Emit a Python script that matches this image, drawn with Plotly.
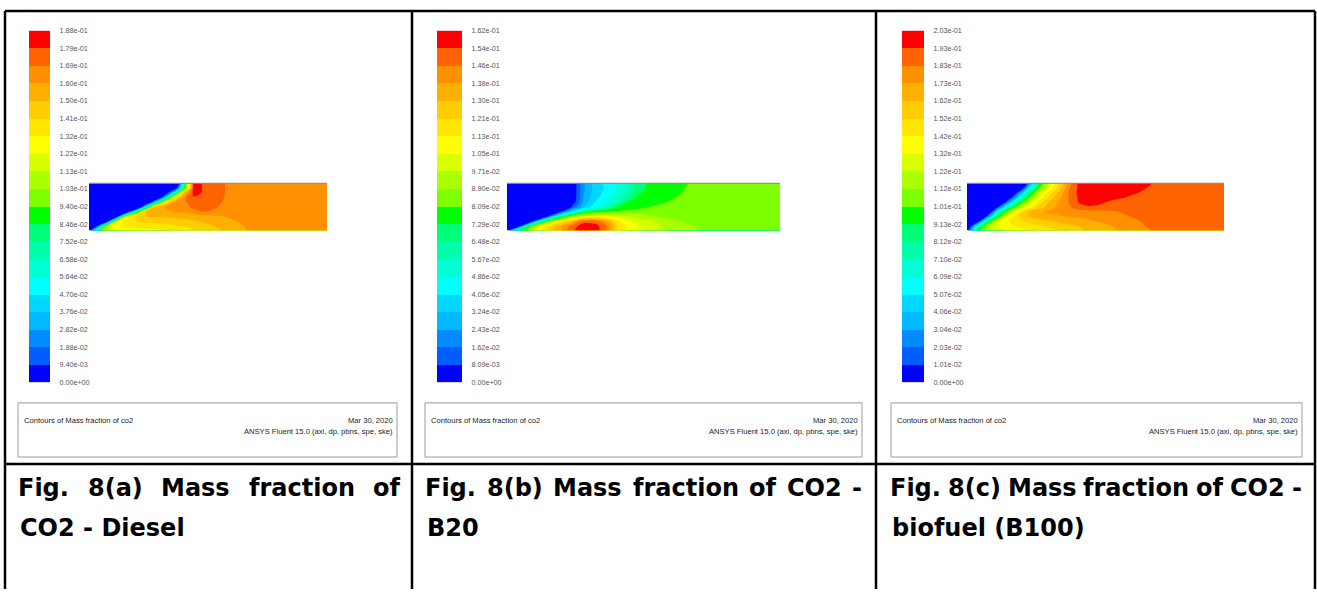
import numpy as np
import plotly.graph_objects as go

W, H = 1317, 594

# ---------------- data ----------------
# Fluent banded colour map, 20 bands from low to high
band_colors = ["#0000ff", "#005eff", "#008cff", "#00b9ff", "#00d7ff", "#00ffff",
               "#00ffd2", "#00ffaa", "#00ff78", "#00ff00", "#7dff00", "#aaff00",
               "#d7ff00", "#ffff00", "#ffe600", "#ffcd00", "#ffaf00", "#ff9100",
               "#ff6400", "#ff0000"]

# normalised axial / radial positions of the sampled grid
axial_pos = [0, .04, .08, .12, .16, .20, .24, .28, .32, .36, .40, .44, .48, .52,
             .56, .60, .65, .70, .75, .80, .90, 1.0]
radial_pos = [0, .1, .2, .3, .4, .5, .6, .7, .8, .9, 1.0]

diesel_max = 0.188
b20_max = 0.162
b100_max = 0.203

diesel_labels = ["0.00e+00", "9.40e-03", "1.88e-02", "2.82e-02", "3.76e-02", "4.70e-02",
                 "5.64e-02", "6.58e-02", "7.52e-02", "8.46e-02", "9.40e-02", "1.03e-01",
                 "1.13e-01", "1.22e-01", "1.32e-01", "1.41e-01", "1.50e-01", "1.60e-01",
                 "1.69e-01", "1.79e-01", "1.88e-01"]
b20_labels = ["0.00e+00", "8.09e-03", "1.62e-02", "2.43e-02", "3.24e-02", "4.05e-02",
              "4.86e-02", "5.67e-02", "6.48e-02", "7.29e-02", "8.09e-02", "8.90e-02",
              "9.71e-02", "1.05e-01", "1.13e-01", "1.21e-01", "1.30e-01", "1.38e-01",
              "1.46e-01", "1.54e-01", "1.62e-01"]
b100_labels = ["0.00e+00", "1.01e-02", "2.03e-02", "3.04e-02", "4.06e-02", "5.07e-02",
               "6.09e-02", "7.10e-02", "8.12e-02", "9.13e-02", "1.01e-01", "1.12e-01",
               "1.22e-01", "1.32e-01", "1.42e-01", "1.52e-01", "1.62e-01", "1.73e-01",
               "1.83e-01", "1.93e-01", "2.03e-01"]

# CO2 field, in colour-band units (value = level * max / 20),
# rows from the axis (bottom) to the wall (top)
diesel_levels = [
    [0, 10, 12.5, 13.3, 13.5, 13.6, 13.7, 13.8, 14.0, 14.3, 14.6, 14.9, 15.2, 15.6, 16.0, 16.4, 16.9, 17.3, 17.5, 17.5, 17.5, 17.5],
    [-6, 2, 12.5, 13.8, 14.2, 14.4, 14.5, 14.6, 14.7, 14.9, 15.1, 15.4, 15.7, 16.0, 16.3, 16.6, 17.0, 17.3, 17.5, 17.5, 17.5, 17.5],
    [-6, -6, 0.5, 13, 14.6, 15.0, 15.2, 15.3, 15.4, 15.5, 15.7, 15.9, 16.1, 16.3, 16.6, 16.9, 17.2, 17.5, 17.5, 17.5, 17.5, 17.5],
    [-6, -6, -6, 0, 13, 15.5, 16.0, 16.1, 16.2, 16.3, 16.4, 16.5, 16.6, 16.8, 17.0, 17.2, 17.5, 17.5, 17.5, 17.5, 17.5, 17.5],
    [-6, -6, -6, -6, -2, 8, 16.0, 16.6, 16.8, 17.0, 17.2, 17.6, 18.1, 17.8, 17.5, 17.5, 17.5, 17.5, 17.5, 17.5, 17.5, 17.5],
    [-6, -6, -6, -6, -6, -4, 6, 16.5, 17.1, 17.3, 17.6, 18.3, 18.5, 18.3, 17.7, 17.5, 17.5, 17.5, 17.5, 17.5, 17.5, 17.5],
    [-6, -6, -6, -6, -6, -6, -3, 5, 14, 17.2, 17.8, 18.5, 18.7, 18.5, 18.0, 17.5, 17.5, 17.5, 17.5, 17.5, 17.5, 17.5],
    [-6, -6, -6, -6, -6, -6, -6, -3, 4, 14, 17.8, 18.9, 18.8, 18.6, 18.1, 17.5, 17.5, 17.5, 17.5, 17.5, 17.5, 17.5],
    [-6, -6, -6, -6, -6, -6, -6, -6, -1, 6, 16, 19.4, 18.9, 18.7, 18.2, 17.5, 17.5, 17.5, 17.5, 17.5, 17.5, 17.5],
    [-6, -6, -6, -6, -6, -6, -6, -6, -6, -1, 9, 19.6, 18.9, 18.7, 18.2, 17.5, 17.5, 17.5, 17.5, 17.5, 17.5, 17.5],
    [-6, -6, -6, -6, -6, -6, -6, -6, -6, -6, 8, 19.6, 18.9, 18.7, 18.2, 17.5, 17.5, 17.5, 17.5, 17.5, 17.5, 17.5],
]
b20_levels = [
    [0, 10, 12.5, 14, 15.5, 17.2, 18.9, 19.6, 19.5, 18.5, 15.0, 13.8, 13.2, 12.7, 12.2, 11.8, 11.3, 11.0, 10.7, 10.5, 10.5, 10.5],
    [-6, -2, 8, 13, 15, 16.8, 18.5, 19.5, 19.4, 18.4, 15.2, 13.7, 13.0, 12.5, 12.0, 11.6, 11.2, 10.9, 10.6, 10.5, 10.5, 10.5],
    [-6, -6, -3, 6, 11, 14, 16, 18.6, 18.5, 17, 14.5, 13.2, 12.6, 12.1, 11.6, 11.2, 10.9, 10.7, 10.5, 10.5, 10.5, 10.5],
    [-6, -6, -6, -6, 3, 8, 11, 12.8, 13.4, 13.2, 12.6, 12.0, 11.6, 11.2, 10.9, 10.7, 10.5, 10.5, 10.5, 10.5, 10.5, 10.5],
    [-6, -6, -6, -6, -6, 1.5, 5, 8, 9.4, 9.8, 10.1, 10.3, 10.4, 10.5, 10.5, 10.5, 10.5, 10.5, 10.5, 10.5, 10.5, 10.5],
    [-6, -6, -6, -6, -6, -6, 1.5, 4.0, 5.6, 7.0, 9.0, 9.4, 9.7, 10.0, 10.25, 10.4, 10.5, 10.5, 10.5, 10.5, 10.5, 10.5],
    [-6, -6, -6, -6, -6, -6, 0.2, 3.3, 5.0, 6.0, 7.2, 9.0, 9.4, 9.6, 9.85, 10.1, 10.4, 10.5, 10.5, 10.5, 10.5, 10.5],
    [-6, -6, -6, -6, -6, -6, 0, 3.0, 4.6, 5.6, 6.6, 8.0, 9.2, 9.5, 9.7, 9.9, 10.2, 10.5, 10.5, 10.5, 10.5, 10.5],
    [-6, -6, -6, -6, -6, -6, 0, 2.9, 4.4, 5.3, 6.2, 7.3, 8.9, 9.3, 9.6, 9.8, 10.05, 10.4, 10.5, 10.5, 10.5, 10.5],
    [-6, -6, -6, -6, -6, -6, 0, 2.8, 4.3, 5.1, 6.0, 7.0, 8.6, 9.2, 9.45, 9.7, 10.0, 10.3, 10.5, 10.5, 10.5, 10.5],
    [-6, -6, -6, -6, -6, -6, 0, 2.8, 4.4, 5.2, 6.0, 7.0, 8.6, 9.2, 9.4, 9.6, 9.9, 10.2, 10.5, 10.5, 10.5, 10.5],
]
b100_levels = [
    [0, 9.5, 11.5, 12.5, 13.2, 13.6, 14.0, 14.4, 14.7, 15.0, 15.4, 15.8, 16.2, 16.5, 16.8, 17.1, 17.5, 17.9, 18.2, 18.4, 18.5, 18.5],
    [-3, 6, 11.5, 13, 13.7, 14.2, 14.6, 14.9, 15.2, 15.5, 15.8, 16.1, 16.4, 16.7, 17.0, 17.3, 17.7, 18.05, 18.3, 18.5, 18.5, 18.5],
    [-6, -1, 8, 12.5, 14, 14.8, 15.3, 15.6, 15.9, 16.2, 16.5, 16.7, 16.9, 17.1, 17.3, 17.55, 17.85, 18.15, 18.4, 18.5, 18.5, 18.5],
    [-6, -6, 2, 9, 13, 15, 16.0, 16.4, 16.7, 16.9, 17.1, 17.2, 17.35, 17.5, 17.65, 17.85, 18.1, 18.4, 18.5, 18.5, 18.5, 18.5],
    [-6, -6, -3, 6, 11, 14, 16, 16.8, 17.2, 17.4, 17.5, 17.6, 17.7, 17.8, 17.9, 18.05, 18.3, 18.5, 18.5, 18.5, 18.5, 18.5],
    [-6, -6, -6, 1, 7, 11, 13.5, 15.3, 16.5, 17.3, 17.9, 18.6, 18.9, 18.75, 18.6, 18.5, 18.5, 18.5, 18.5, 18.5, 18.5, 18.5],
    [-6, -6, -6, -4, 3, 8.5, 12, 14.5, 16.2, 17.2, 18.1, 19.2, 19.4, 19.15, 18.85, 18.6, 18.5, 18.5, 18.5, 18.5, 18.5, 18.5],
    [-6, -6, -6, -6, -1, 5, 10, 13, 15.2, 16.7, 18.2, 19.3, 19.45, 19.4, 19.3, 19.1, 18.8, 18.6, 18.5, 18.5, 18.5, 18.5],
    [-6, -6, -6, -6, -4, 2, 8, 12, 14.5, 16.3, 18.2, 19.4, 19.5, 19.5, 19.45, 19.35, 19.1, 18.8, 18.6, 18.5, 18.5, 18.5],
    [-6, -6, -6, -6, -6, -3, 5, 10, 13, 15.5, 18.0, 19.4, 19.6, 19.6, 19.55, 19.45, 19.3, 19.0, 18.7, 18.5, 18.5, 18.5],
    [-6, -6, -6, -6, -6, -6, 2, 8.5, 12.5, 15, 17.6, 19.5, 19.6, 19.6, 19.6, 19.5, 19.4, 19.15, 18.8, 18.5, 18.5, 18.5],
]

box_title = "Contours of Mass fraction of co2"
box_date = "Mar 30, 2020"
box_solver = "ANSYS Fluent 15.0 (axi, dp, pbns, spe, ske)"

caption_line1 = [["Fig.", "8(a)", "Mass", "fraction", "of"],
                 ["Fig.", "8(b)", "Mass", "fraction", "of", "CO2", "-"],
                 ["Fig.", "8(c)", "Mass", "fraction", "of", "CO2", "-"]]
caption_line2 = ["CO2 - Diesel", "B20", "biofuel (B100)"]

# ---------------- layout geometry (pixels) ----------------
panels = [
    dict(levels=diesel_levels, vmax=diesel_max, labels=diesel_labels,
         cbar=(29, 50), field=(89, 327), box=(18, 397),
         word_x=[43.5, 115, 195.5, 301.5, 386.5], cap_left=18),
    dict(levels=b20_levels, vmax=b20_max, labels=b20_labels,
         cbar=(437, 462), field=(507, 780), box=(425, 862),
         word_x=[450.5, 514.5, 587.5, 685.5, 762.5, 814, 857], cap_left=425),
    dict(levels=b100_levels, vmax=b100_max, labels=b100_labels,
         cbar=(902, 924), field=(967, 1224), box=(891, 1302),
         word_x=[915.5, 974.3, 1042.1, 1136.4, 1209.7, 1257.5, 1296.8], cap_left=890),
]
CB_TOP, CB_BOT = 27, 384
FIELD_TOP, FIELD_BOT = 182, 230
CAP_Y1, CAP_Y2 = 491, 532


def px(x):
    return x / W


def py(y):
    return 1 - y / H


n = len(band_colors)
cscale = [[k / (n - 1), c] for k, c in enumerate(band_colors)]

NARROW = "Liberation Sans Narrow, Arial Narrow, Liberation Sans, Arial, sans-serif"
CAPFONT = "DejaVu Sans, Open Sans, sans-serif"

fig = go.Figure()
layout_axes = {}
shapes = []
annotations = []

for i, p in enumerate(panels):
    bw = p["vmax"] / 20.0
    z = np.array(p["levels"], dtype=float) * bw
    xa_f, ya_f = 2 * i + 1, 2 * i + 2
    xa_c, ya_c = 2 * i + 7, 2 * i + 8

    # colour legend column
    fig.add_trace(go.Heatmap(
        x=[0], y=[k + 0.5 for k in range(n)], z=[[k] for k in range(n)],
        zmin=0, zmax=n - 1, colorscale=cscale, showscale=False,
        xaxis=f"x{xa_c}", yaxis=f"y{ya_c}", hoverinfo="skip"))

    fig.add_trace(go.Contour(
        x=axial_pos, y=radial_pos, z=z,
        xaxis=f"x{xa_f}", yaxis=f"y{ya_f}",
        colorscale=cscale, showscale=False, autocontour=False,
        contours=dict(start=bw, end=19 * bw, size=bw, coloring="fill", showlines=False),
        line=dict(width=0), hoverinfo="skip"))

    layout_axes[f"xaxis{xa_f}"] = dict(domain=[px(p["field"][0]), px(p["field"][1])],
                                       range=[0, 1], visible=False, anchor=f"y{ya_f}")
    layout_axes[f"yaxis{ya_f}"] = dict(domain=[py(FIELD_BOT), py(FIELD_TOP)],
                                       range=[0, 1], visible=False, anchor=f"x{xa_f}")
    layout_axes[f"xaxis{xa_c}"] = dict(domain=[px(p["cbar"][0]), px(p["cbar"][1])],
                                       range=[-0.5, 0.5], visible=False, anchor=f"y{ya_c}")
    layout_axes[f"yaxis{ya_c}"] = dict(
        domain=[py(CB_BOT), py(CB_TOP)], range=[0, 20], anchor=f"x{xa_c}",
        side="right", tickmode="array", tickvals=list(range(21)), ticktext=p["labels"],
        ticks="outside", ticklen=7, tickcolor="rgba(0,0,0,0)",
        tickfont=dict(family=NARROW, size=7.2, color="#555555"),
        showgrid=False, zeroline=False, showline=False)

    # wall line on top of the field
    shapes.append(dict(type="line", xref="paper", yref="paper",
                       x0=px(p["field"][0]), x1=px(p["field"][1]),
                       y0=py(FIELD_TOP), y1=py(FIELD_TOP),
                       line=dict(color="#8a8a8a", width=1.2)))

    # info box
    bx0, bx1 = p["box"]
    shapes.append(dict(type="rect", xref="paper", yref="paper",
                       x0=px(bx0), x1=px(bx1), y0=py(460), y1=py(405),
                       line=dict(color="#9a9a9a", width=1), fillcolor="rgba(0,0,0,0)"))
    annotations.append(dict(xref="paper", yref="paper", x=px(bx0 + 4), y=py(423),
                            xanchor="left", yanchor="middle", showarrow=False, text=box_title,
                            font=dict(family=NARROW, size=7.6, color="#222222")))
    annotations.append(dict(xref="paper", yref="paper", x=px(bx1 - 2), y=py(423),
                            xanchor="right", yanchor="middle", showarrow=False, text=box_date,
                            font=dict(family=NARROW, size=7.6, color="#222222")))
    annotations.append(dict(xref="paper", yref="paper", x=px(bx1 - 2), y=py(434),
                            xanchor="right", yanchor="middle", showarrow=False, text=box_solver,
                            font=dict(family=NARROW, size=7.6, color="#222222")))

    # captions
    words = caption_line1[i]
    for j, (w, wx) in enumerate(zip(words, p["word_x"])):
        annotations.append(dict(xref="paper", yref="paper", x=px(wx), y=py(CAP_Y1),
                                xanchor="center", yanchor="middle", showarrow=False,
                                text=f"<b>{w}</b>",
                                font=dict(family=CAPFONT, size=24, color="#000000")))
    annotations.append(dict(xref="paper", yref="paper", x=px(p["cap_left"]), y=py(CAP_Y2),
                            xanchor="left", yanchor="middle", showarrow=False,
                            text=f"<b>{caption_line2[i]}</b>",
                            font=dict(family=CAPFONT, size=24, color="#000000")))

# table grid lines
grid_lines = [
    (5, 7, 1315, 7), (5, 467, 1315, 467),
    (5, 7, 5, 594), (412, 7, 412, 594), (876, 7, 876, 594), (1315, 7, 1315, 594),
]
for x0, y0, x1, y1 in grid_lines:
    shapes.append(dict(type="line", xref="paper", yref="paper",
                       x0=px(x0), x1=px(x1), y0=py(y0), y1=py(y1),
                       line=dict(color="#000000", width=2.5)))

fig.update_layout(
    width=W, height=H, margin=dict(l=0, r=0, t=0, b=0),
    paper_bgcolor="white", plot_bgcolor="rgba(0,0,0,0)",
    showlegend=False, shapes=shapes, annotations=annotations, **layout_axes)

fig.write_html("out.html")
